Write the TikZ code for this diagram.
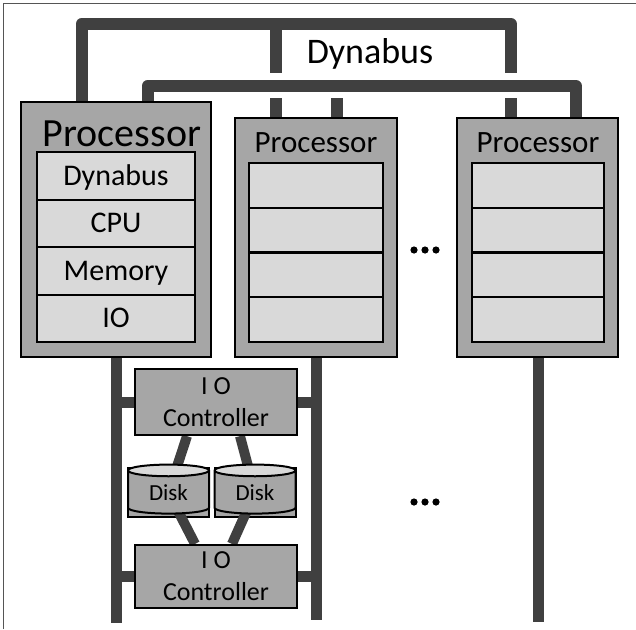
\documentclass[tikz,border=0pt]{standalone}
\usepackage{fontspec}
\setmainfont{Carlito}
\usetikzlibrary{shapes.geometric}

\definecolor{busgray}{HTML}{404040}
\definecolor{boxgray}{HTML}{A6A6A6}
\definecolor{rowgray}{HTML}{D9D9D9}
\definecolor{framegray}{HTML}{555555}

\tikzset{
	bus/.style={line width=12pt, draw=busgray, line join=round},
	link/.style={line width=11pt, draw=busgray},
	proc/.style={draw=black, line width=2pt, fill=boxgray, inner sep=0pt},
	row/.style={draw=black, line width=2pt, fill=rowgray, inner sep=0pt,
		text height=19pt, text depth=0pt, font=\fontsize{30}{30}\selectfont},
	ctrl/.style={draw=black, line width=2.2pt, fill=boxgray, align=center,
		minimum width=162pt, inner sep=0pt, font=\fontsize{26}{32}\selectfont},
	disk/.style={shape=cylinder, shape border rotate=90, aspect=0.3,
		draw=black, line width=2pt, cylinder uses custom fill,
		cylinder body fill=boxgray, cylinder end fill=rowgray,
		minimum width=81pt, minimum height=49pt, inner sep=0pt,
		font=\fontsize{23}{23}\selectfont}
}

\begin{document}
\begin{tikzpicture}[x=1pt, y=-1pt]
	\useasboundingbox (0,0) rectangle (636,629);
	
	% frame, only top and left edges
	\draw[framegray, line width=1.5pt] (3.5,629) -- (3.5,3.5) -- (636,3.5);
	
	% bus corners and gaps
	\coordinate (ua) at (81.5,24);
	\coordinate (ub) at (276,24);
	\coordinate (uc) at (511,24);
	\coordinate (la) at (147.5,86);
	\coordinate (lc) at (576,86);
	\coordinate (gb) at (276,73);
	\coordinate (gc) at (511,73);
	\coordinate (sb) at (276,98);
	\coordinate (sb2) at (337,98);
	\coordinate (sc) at (511,98);
	
	% Processors (boxes first, so the buses can be drawn to them)
	\path node[proc, minimum width=190pt, minimum height=255pt] (pa) at (116,229.5) {};
	\path node[proc, minimum width=162pt, minimum height=239pt] (pb) at (316,237.5) {};
	\path node[proc, minimum width=161pt, minimum height=239pt] (pc) at (537.5,237.5) {};
	
	% Dynabus
	\draw[bus] (pa.north -| ua) -- (ua) -- (uc) -- (gc);
	\draw[bus] (ub) -- (gb);
	\draw[bus] (pa.north -| la) -- (la) -- (lc) -- (pc.north -| lc);
	\draw[bus] (sb) -- (pb.north -| sb);
	\draw[bus] (sb2) -- (pb.north -| sb2);
	\draw[bus] (sc) -- (pc.north -| sc);
	\node[font=\fontsize{36}{36}\selectfont, anchor=base] (bus-label) at (370,63) {Dynabus};
	
	% redraw the processor boxes over the bus ends
	\node[proc, minimum width=190pt, minimum height=255pt] at (pa) {};
	\node[proc, minimum width=162pt, minimum height=239pt] at (pb) {};
	\node[proc, minimum width=161pt, minimum height=239pt] at (pc) {};
	
	% first processor
	\node[font=\fontsize{40}{40}\selectfont, anchor=base] (pa-title) at (122,146) {Processor};
	\node[row, minimum width=158pt, minimum height=47.5pt] (pa-1) at (116,175.75) {Dynabus};
	\node[row, minimum width=158pt, minimum height=47.5pt] (pa-2) at (116,223.25) {CPU};
	\node[row, minimum width=158pt, minimum height=47.5pt] (pa-3) at (116,270.75) {Memory};
	\node[row, minimum width=158pt, minimum height=47.5pt] (pa-4) at (116,318.25) {IO};
	
	% the other two
	\node[font=\fontsize{31}{31}\selectfont, anchor=base] (pb-title) at (316,152) {Processor};
	\node[font=\fontsize{31}{31}\selectfont, anchor=base] (pc-title) at (538,152) {Processor};
	\foreach \i/\y in {1/185.4, 2/230.1, 3/274.9, 4/319.6} {
		\node[row, minimum width=134pt, minimum height=44.75pt] (pb-\i) at (316,\y) {};
		\node[row, minimum width=132pt, minimum height=44.75pt] (pc-\i) at (538,\y) {};
	}
	
	% dots
	\node[inner sep=0pt, minimum width=30pt, minimum height=8pt] (dots-top) at (425,250) {};
	\node[inner sep=0pt, minimum width=30pt, minimum height=8pt] (dots-bot) at (425,502) {};
	\foreach \d in {-11,0,11} {
		\fill ([xshift=\d pt]dots-top.center) circle (3.6pt);
		\fill ([xshift=\d pt]dots-bot.center) circle (3.6pt);
	}
	
	% IO side
	\coordinate (enda) at (116,623);
	\coordinate (endb) at (316,620);
	\coordinate (endc) at (538,622);
	\draw[link] (pa.south) -- (enda);
	\draw[link] (pb.south) -- (endb);
	\draw[link] (pc.south -| endc) -- (endc);
	
	\path node[ctrl, minimum height=66pt] (ioa) at (216,402) {I O\\Controller};
	\path node[ctrl, minimum height=63pt] (iob) at (216,576.5) {I O\\Controller};
	\draw[link] (ioa.west) -- (ioa.west -| enda);
	\draw[link] (ioa.east) -- (ioa.east -| endb);
	\draw[link] (iob.west) -- (iob.west -| enda);
	\draw[link] (iob.east) -- (iob.east -| endb);
	
	\path node[disk] (da) at (168.5,492.5) {};
	\path node[disk] (db) at (255,492.5) {};
	\draw[link, line width=10pt] (da.center) -- ([xshift=-29pt]ioa.south);
	\draw[link, line width=10pt] (db.center) -- ([xshift=24pt]ioa.south);
	\draw[link, line width=10pt] (da.center) -- ([xshift=-21pt]iob.north);
	\draw[link, line width=10pt] (db.center) -- ([xshift=16pt]iob.north);
	
	\node[ctrl, minimum height=66pt] at (ioa) {I O\\Controller};
	\node[ctrl, minimum height=63pt] at (iob) {I O\\Controller};
	\node[disk] at (da) {Disk};
	\node[disk] at (db) {Disk};
\end{tikzpicture}
\end{document}
